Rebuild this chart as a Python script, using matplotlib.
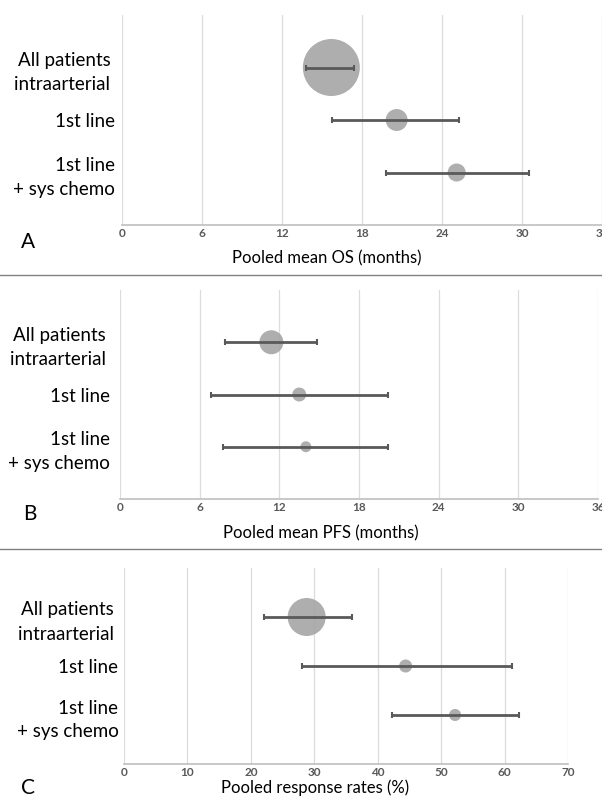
import numpy as np
import matplotlib
matplotlib.use("Agg")
import matplotlib.pyplot as plt

plt.rcParams['font.family'] = ['Lato', 'DejaVu Sans']

# rows, top to bottom
groups = ["All patients \nintraarterial ", "1st line", "1st line\n+ sys chemo"]
rows = [3, 2, 1]

# panel A: pooled mean OS (months)
os_mean = [15.7, 20.6, 25.1]
os_lo = [13.8, 15.75, 19.8]
os_hi = [17.4, 25.3, 30.5]
os_n = [3250, 480, 325]

# panel B: pooled mean PFS (months)
pfs_mean = [11.4, 13.5, 14.0]
pfs_lo = [7.9, 6.85, 7.75]
pfs_hi = [14.8, 20.2, 20.2]
pfs_n = [575, 195, 120]

# panel C: pooled response rates (%)
rr_mean = [28.8, 44.4, 52.2]
rr_lo = [22.0, 28.0, 42.2]
rr_hi = [35.9, 61.2, 62.2]
rr_n = [1445, 170, 145]

os_ticks = [0, 6, 12, 18, 24, 30, 36]
pfs_ticks = [0, 6, 12, 18, 24, 30, 36]
rr_ticks = [0, 10, 20, 30, 40, 50, 60, 70]

W, H = 602, 798
fig = plt.figure(figsize=(W / 100, H / 100), dpi=100)


def px_axes(left, right, top, bottom):
    return fig.add_axes([left / W, 1 - bottom / H, (right - left) / W, (bottom - top) / H])


def panel(ax, mean, lo, hi, n, ticks, label_pad):
    mean = np.array(mean)
    err = [mean - np.array(lo), np.array(hi) - mean]
    ax.scatter(mean, rows, s=np.array(n) * 0.5184, color='#a5a5a5', alpha=0.9,
               edgecolors='none', zorder=2)
    ax.errorbar(mean, rows, xerr=err, fmt='none', ecolor='#595959', elinewidth=2,
                capsize=2.5, capthick=1.5, zorder=3)
    ax.set_xlim(ticks[0], ticks[-1])
    ax.set_ylim(0, 4)
    ax.set_xticks(ticks)
    ax.set_yticks(rows)
    ax.set_yticklabels(groups, fontsize=13.5, color='black', linespacing=1.5)
    ax.tick_params(axis='y', length=0, pad=label_pad)
    ax.tick_params(axis='x', length=0, pad=2, labelsize=8.5, labelcolor='#595959')
    for t in ax.get_xticklabels():
        t.set_fontweight('bold')
    ax.grid(axis='x', color='#dcdcdc', linewidth=0.9)
    ax.set_axisbelow(True)
    for side in ['top', 'right', 'left']:
        ax.spines[side].set_visible(False)
    ax.spines['bottom'].set_color('#bfbfbf')
    ax.spines['bottom'].set_linewidth(1.2)


ax_a = px_axes(122, 602, 15, 225)
panel(ax_a, os_mean, os_lo, os_hi, os_n, os_ticks, 5)
ax_b = px_axes(120, 598, 290, 499)
panel(ax_b, pfs_mean, pfs_lo, pfs_hi, pfs_n, pfs_ticks, 7)
ax_c = px_axes(124, 568, 568, 764)
panel(ax_c, rr_mean, rr_lo, rr_hi, rr_n, rr_ticks, 4)

# x labels and panel letters
fig.text(327 / W, 1 - 258 / H, "Pooled mean OS (months)", ha='center', va='center', fontsize=12)
fig.text(321 / W, 1 - 533 / H, "Pooled mean PFS (months)", ha='center', va='center', fontsize=12)
fig.text(315 / W, 1 - 788 / H, "Pooled response rates (%)", ha='center', va='center', fontsize=12)
fig.text(28 / W, 1 - 242 / H, "A", ha='center', va='center', fontsize=15)
fig.text(30 / W, 1 - 514 / H, "B", ha='center', va='center', fontsize=15)
fig.text(28 / W, 1 - 788 / H, "C", ha='center', va='center', fontsize=15)

# separators between panels
for y in [275, 549]:
    fig.add_artist(plt.Line2D([0, 1], [1 - y / H, 1 - y / H], color='#808080', linewidth=1))

fig.savefig("out.png", dpi=100)
